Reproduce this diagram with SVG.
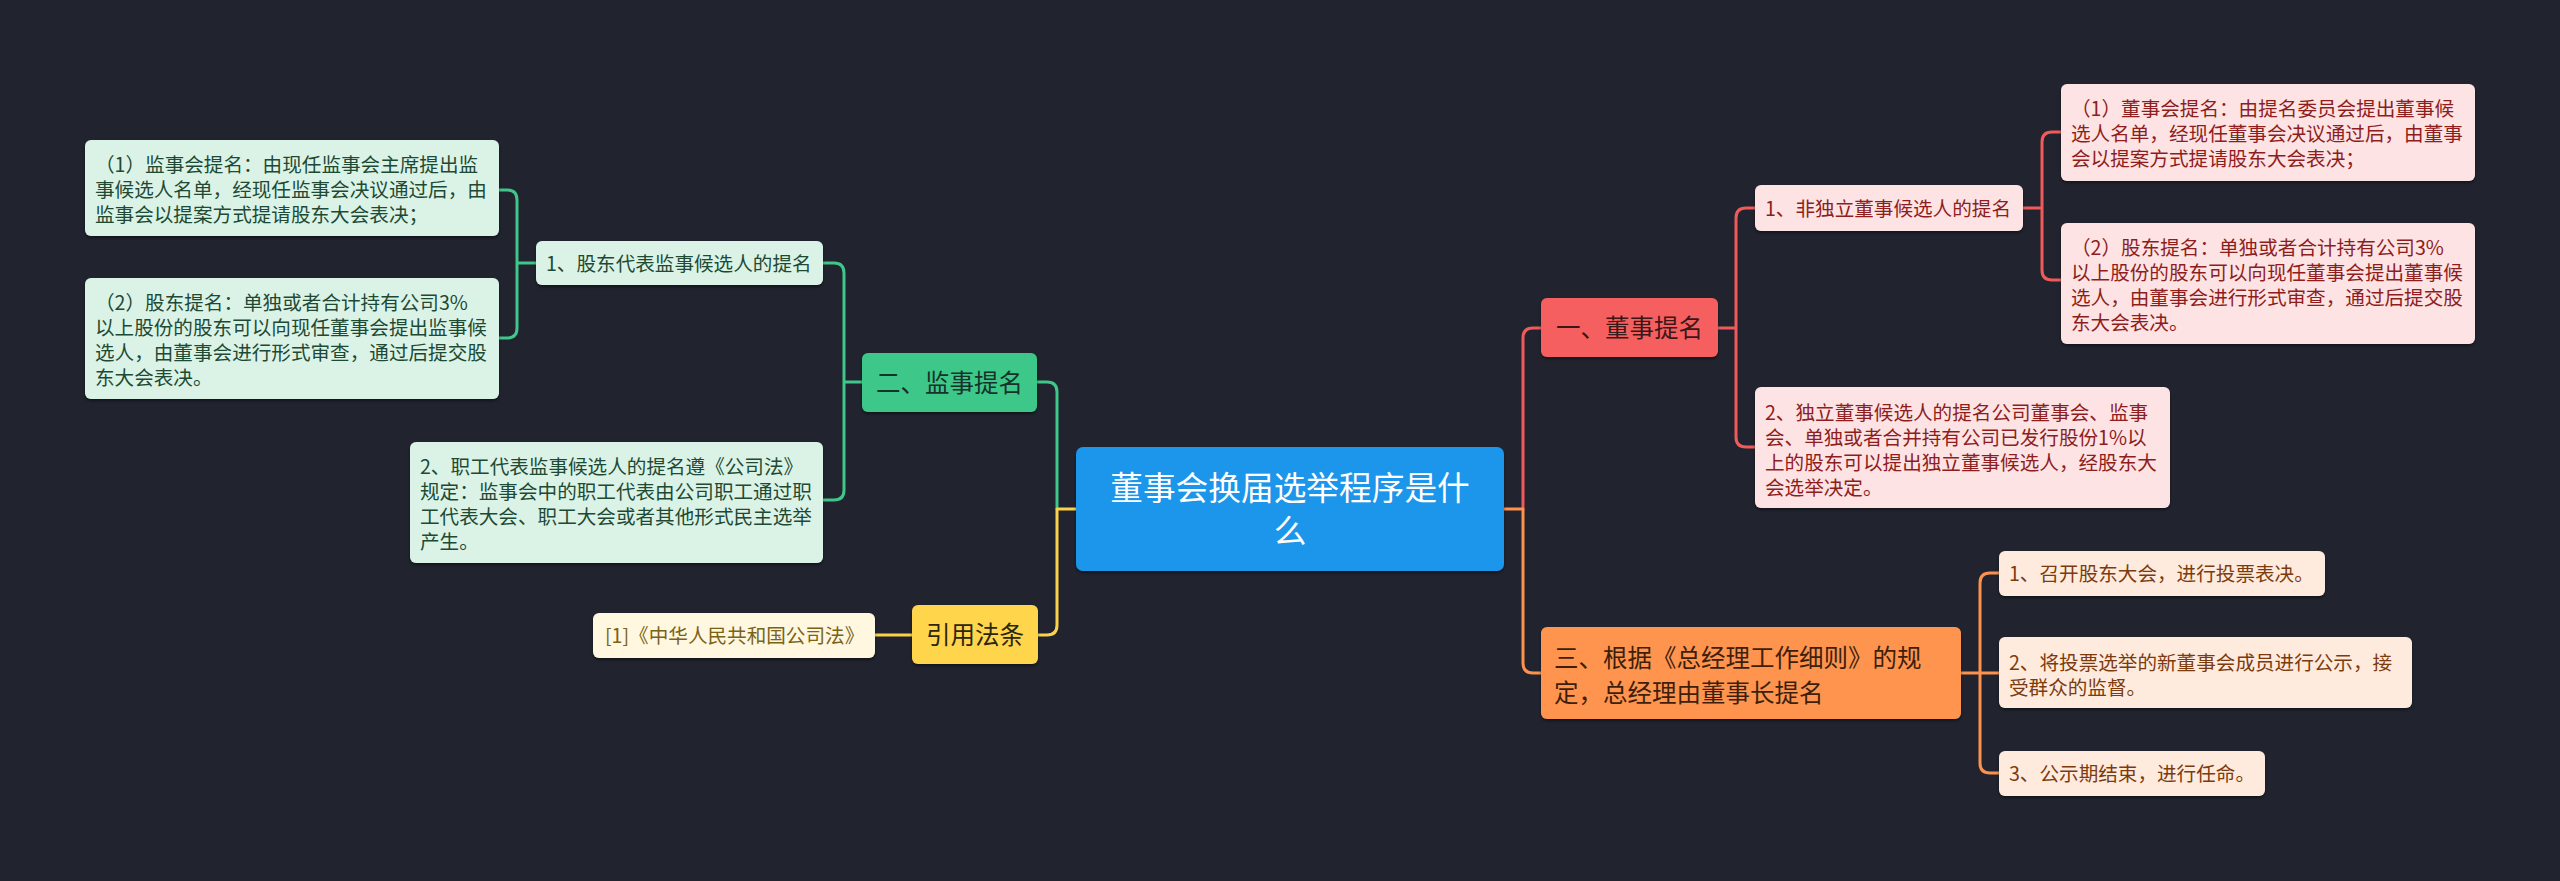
<svg xmlns="http://www.w3.org/2000/svg" width="2560" height="881" viewBox="0 0 2560 881">
<defs>
<filter id="sh" x="-5%" y="-10%" width="110%" height="130%">
<feDropShadow dx="0" dy="2" stdDeviation="1.5" flood-color="#000" flood-opacity="0.45"/>
</filter>
<style>
text{font-family:"Noto Sans CJK SC","Microsoft YaHei",sans-serif;}
.s{font-size:19.6px;}
.m{font-size:24.5px;}
.l{font-size:32.7px;}
.mid{text-anchor:middle;}
rect{filter:url(#sh);}
.c{fill:none;stroke-width:3;stroke-linecap:round;stroke-linejoin:round;}
.cg{stroke:#3fc68a;}
.cy{stroke:#fbd24a;}
.cr{stroke:#f05a5a;}
.co{stroke:#fd914e;}
.gm{fill:#3ec88a;} .gmt{fill:#17322a;}
.gl{fill:#dbf3e7;} .glt{fill:#1e4a34;}
.ym{fill:#ffd54c;} .ymt{fill:#2b2610;}
.yl{fill:#fff7df;} .ylt{fill:#7a6216;}
.rm{fill:#f65e5e;} .rmt{fill:#3c1717;}
.rl{fill:#fde3e3;} .rlt{fill:#8e1d1d;}
.om{fill:#ff944f;} .omt{fill:#3d1f0c;}
.ol{fill:#ffebdd;} .olt{fill:#7c3b0f;}
</style>
</defs>
<rect x="0" y="0" width="2560" height="881" fill="#21242f" style="filter:none"/>

<g id="connectors">
<!-- left side -->
<path class="c cg" d="M499,190 H507 Q517,190 517,200 V328 Q517,338 507,338 H499 M517,263 H536"/>
<path class="c cg" d="M823,263 H834 Q844,263 844,273 V490 Q844,500 834,500 H823 M844,382 H862"/>
<path class="c cg" d="M1037,382 H1047 Q1057,382 1057,392 V509"/>
<path class="c cy" d="M1076,509 H1057 V625 Q1057,635 1047,635 H1038"/>
<path class="c cy" d="M875,635 H912"/>
<!-- right side -->
<path class="c cr" d="M1523,509 V338 Q1523,328 1533,328 H1541"/>
<path class="c co" d="M1504,509 H1523 V663 Q1523,673 1533,673 H1541"/>
<path class="c cr" d="M1718,328 H1736 M1755,208 H1746 Q1736,208 1736,218 V437 Q1736,447 1746,447 H1755"/>
<path class="c cr" d="M2023,208 H2042 M2061,132 H2052 Q2042,132 2042,142 V270 Q2042,280 2052,280 H2061"/>
<path class="c co" d="M1961,673 H1999 M1999,573 H1990 Q1980,573 1980,583 V763 Q1980,773 1990,773 H1999"/>
</g>

<g id="root">
<rect x="1076" y="447" width="428" height="124" rx="7" fill="#1a96ea"/>
<text class="l mid" x="1290" y="500" fill="#ffffff">董事会换届选举程序是什</text>
<text class="l mid" x="1290" y="543" fill="#ffffff">么</text>
</g>

<g id="n-jianshi">
<rect class="gm" x="862" y="353" width="175" height="59" rx="6"/>
<text class="m mid gmt" x="949.5" y="392">二、监事提名</text>
</g>
<g id="n-g1">
<rect class="gl" x="536" y="241" width="287" height="44" rx="6"/>
<text class="s glt" x="546" y="271">1、股东代表监事候选人的提名</text>
</g>
<g id="n-g1a">
<rect class="gl" x="85" y="140" width="414" height="96" rx="6"/>
<text class="s glt" x="95" y="172">（1）监事会提名：由现任监事会主席提出监</text>
<text class="s glt" x="95" y="197">事候选人名单，经现任监事会决议通过后，由</text>
<text class="s glt" x="95" y="222">监事会以提案方式提请股东大会表决；</text>
</g>
<g id="n-g1b">
<rect class="gl" x="85" y="278" width="414" height="121" rx="6"/>
<text class="s glt" x="95" y="310">（2）股东提名：单独或者合计持有公司3%</text>
<text class="s glt" x="95" y="335">以上股份的股东可以向现任董事会提出监事候</text>
<text class="s glt" x="95" y="360">选人，由董事会进行形式审查，通过后提交股</text>
<text class="s glt" x="95" y="385">东大会表决。</text>
</g>
<g id="n-g2">
<rect class="gl" x="410" y="442" width="413" height="121" rx="6"/>
<text class="s glt" x="420" y="474">2、职工代表监事候选人的提名遵《公司法》</text>
<text class="s glt" x="420" y="499">规定：监事会中的职工代表由公司职工通过职</text>
<text class="s glt" x="420" y="524">工代表大会、职工大会或者其他形式民主选举</text>
<text class="s glt" x="420" y="549">产生。</text>
</g>

<g id="n-yinyong">
<rect class="ym" x="912" y="605" width="126" height="59" rx="6"/>
<text class="m mid ymt" x="975" y="644">引用法条</text>
</g>
<g id="n-law">
<rect class="yl" x="593" y="613" width="282" height="45" rx="6"/>
<text class="s ylt" x="605" y="643">[1]《中华人民共和国公司法》</text>
</g>

<g id="n-dongshi">
<rect class="rm" x="1541" y="298" width="177" height="59" rx="6"/>
<text class="m mid rmt" x="1629.5" y="337">一、董事提名</text>
</g>
<g id="n-r1">
<rect class="rl" x="1755" y="185" width="268" height="46" rx="6"/>
<text class="s rlt" x="1765" y="216">1、非独立董事候选人的提名</text>
</g>
<g id="n-r1a">
<rect class="rl" x="2061" y="84" width="414" height="97" rx="6"/>
<text class="s rlt" x="2071" y="116">（1）董事会提名：由提名委员会提出董事候</text>
<text class="s rlt" x="2071" y="141">选人名单，经现任董事会决议通过后，由董事</text>
<text class="s rlt" x="2071" y="166">会以提案方式提请股东大会表决；</text>
</g>
<g id="n-r1b">
<rect class="rl" x="2061" y="223" width="414" height="121" rx="6"/>
<text class="s rlt" x="2071" y="255">（2）股东提名：单独或者合计持有公司3%</text>
<text class="s rlt" x="2071" y="280">以上股份的股东可以向现任董事会提出董事候</text>
<text class="s rlt" x="2071" y="305">选人，由董事会进行形式审查，通过后提交股</text>
<text class="s rlt" x="2071" y="330">东大会表决。</text>
</g>
<g id="n-r2">
<rect class="rl" x="1755" y="387" width="415" height="121" rx="6"/>
<text class="s rlt" x="1765" y="420">2、独立董事候选人的提名公司董事会、监事</text>
<text class="s rlt" x="1765" y="445">会、单独或者合并持有公司已发行股份1%以</text>
<text class="s rlt" x="1765" y="470">上的股东可以提出独立董事候选人，经股东大</text>
<text class="s rlt" x="1765" y="495">会选举决定。</text>
</g>

<g id="n-zongjingli">
<rect class="om" x="1541" y="627" width="420" height="92" rx="6"/>
<text class="m omt" x="1554" y="667">三、根据《总经理工作细则》的规</text>
<text class="m omt" x="1554" y="702">定，总经理由董事长提名</text>
</g>
<g id="n-o1">
<rect class="ol" x="1999" y="551" width="326" height="45" rx="6"/>
<text class="s olt" x="2009" y="581">1、召开股东大会，进行投票表决。</text>
</g>
<g id="n-o2">
<rect class="ol" x="1999" y="637" width="413" height="71" rx="6"/>
<text class="s olt" x="2009" y="670">2、将投票选举的新董事会成员进行公示，接</text>
<text class="s olt" x="2009" y="695">受群众的监督。</text>
</g>
<g id="n-o3">
<rect class="ol" x="1999" y="751" width="266" height="45" rx="6"/>
<text class="s olt" x="2009" y="781">3、公示期结束，进行任命。</text>
</g>
</svg>
